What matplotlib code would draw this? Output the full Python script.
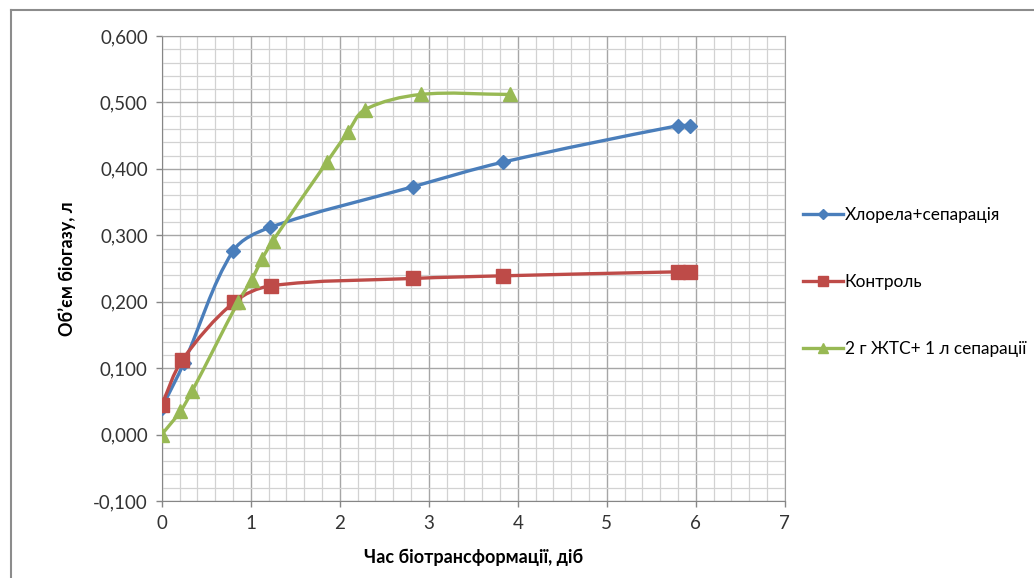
import numpy as np
import matplotlib.pyplot as plt
from matplotlib.path import Path
from matplotlib.patches import PathPatch
from matplotlib.lines import Line2D
from matplotlib.ticker import MultipleLocator, FuncFormatter

plt.rcParams['font.family'] = ['Lato', 'DejaVu Sans']

# Хлорела+сепарація
chl_x = [0.0, 0.25, 0.80, 1.22, 2.82, 3.83, 5.80, 5.94]
chl_y = [0.040, 0.108, 0.276, 0.312, 0.373, 0.410, 0.465, 0.465]

# Контроль
ctl_x = [0.0, 0.23, 0.81, 1.23, 2.82, 3.83, 5.80, 5.94]
ctl_y = [0.045, 0.112, 0.199, 0.224, 0.235, 0.239, 0.245, 0.245]

# 2 г ЖТС + 1 л сепарації
jts_x = [0.0, 0.21, 0.34, 0.86, 1.01, 1.13, 1.25, 1.86, 2.09, 2.28, 2.91, 3.91]
jts_y = [0.0, 0.035, 0.065, 0.200, 0.233, 0.265, 0.292, 0.411, 0.455, 0.489, 0.512, 0.512]

labels = ['Хлорела+сепарація', 'Контроль', '2 г ЖТС+ 1 л сепарації']
colors = ['#4A7EBB', '#BE4B48', '#98B954']
markers = ['D', 's', '^']
msizes = [7, 10, 10.5]

# pixels per data unit, used so the smoothing works in screen space
SX, SY = 89.0, 664.0


def smooth_path(xs, ys, k=0.33):
    p = np.column_stack([np.asarray(xs) * SX, np.asarray(ys) * SY])
    n = len(p)
    tang = []
    for i in range(n):
        a = p[i - 1] if i > 0 else p[i]
        b = p[i + 1] if i < n - 1 else p[i]
        d = b - a
        ln = np.hypot(*d)
        tang.append(d / ln if ln > 0 else d)
    verts = [p[0]]
    codes = [Path.MOVETO]
    for i in range(n - 1):
        seg = np.hypot(*(p[i + 1] - p[i]))
        c1 = p[i] + tang[i] * seg * k
        c2 = p[i + 1] - tang[i + 1] * seg * k
        verts += [c1, c2, p[i + 1]]
        codes += [Path.CURVE4] * 3
    verts = np.array(verts) / [SX, SY]
    return Path(verts, codes)


fig = plt.figure(figsize=(10.34, 5.78), dpi=100)
ax = fig.add_axes([0.1564, 0.1332, 0.6026, 0.8045])

series = [(chl_x, chl_y), (ctl_x, ctl_y), (jts_x, jts_y)]
handles = []
for (xs, ys), lab, c, m, ms in zip(series, labels, colors, markers, msizes):
    ax.add_patch(PathPatch(smooth_path(xs, ys), fill=False, edgecolor=c,
                           lw=2.4, zorder=3, capstyle='round'))
    ax.plot(xs, ys, ls='none', marker=m, ms=ms, color=c, zorder=4)
    handles.append(Line2D([], [], color=c, lw=2.4, marker=m, ms=ms * 0.75))

ax.set_xlim(0, 7)
ax.set_ylim(-0.1, 0.6)
ax.xaxis.set_major_locator(MultipleLocator(1))
ax.xaxis.set_minor_locator(MultipleLocator(0.2))
ax.yaxis.set_major_locator(MultipleLocator(0.1))
ax.yaxis.set_minor_locator(MultipleLocator(0.02))
ax.yaxis.set_major_formatter(FuncFormatter(lambda v, _: f'{v:.3f}'.replace('.', ',')))
ax.grid(which='major', color='#a6a6a6', lw=1.0, zorder=0)
ax.grid(which='minor', color='#d2d2d2', lw=0.9, zorder=0)
ax.set_axisbelow(True)

ax.tick_params(which='major', length=4, width=1, color='#868686',
               labelsize=13.5, labelcolor='#333333', pad=6)
ax.tick_params(which='minor', length=0)
for s in ax.spines.values():
    s.set_color('#a0a0a0')
ax.spines['left'].set_color('#868686')
ax.spines['bottom'].set_color('#868686')

ax.set_xlabel('Час біотрансформації, діб', fontsize=13, fontweight='bold',
              labelpad=12)
ax.set_ylabel('Об’єм біогазу, л', fontsize=13, fontweight='bold', labelpad=12)

fig.legend(handles, labels, loc='center left', bbox_to_anchor=(0.762, 0.512),
           frameon=False, fontsize=12.4, handlelength=2.3, handletextpad=0.1,
           labelspacing=2.95)

# chart frame
fig.add_artist(Line2D([0.0106, 1.0], [0.9827, 0.9827], color='#8c8c8c', lw=1.5))
fig.add_artist(Line2D([0.0106, 0.0106], [0.0, 0.9827], color='#8c8c8c', lw=1.5))

fig.savefig('out.png', dpi=100)
